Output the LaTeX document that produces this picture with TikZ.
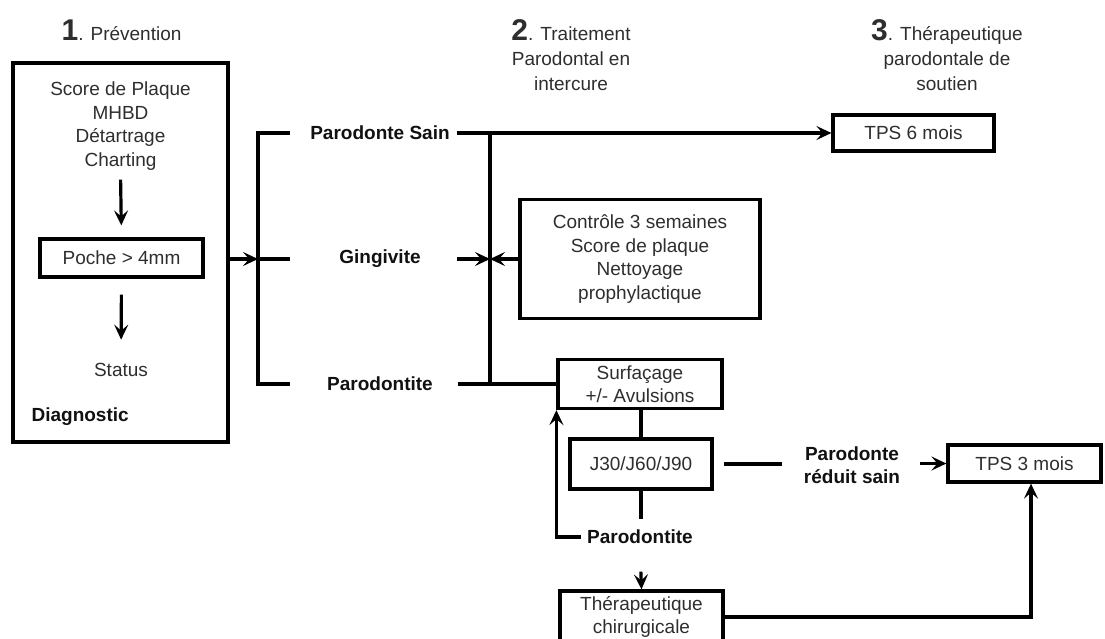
\documentclass[tikz,border=0pt]{standalone}
\usepackage{fontspec}
\setmainfont{Liberation Sans}
\usetikzlibrary{arrows.meta,calc}
\definecolor{txt}{HTML}{2e2e2e}
\definecolor{btxt}{HTML}{111111}
\newcommand\myfs{\fontsize{19}{23.5}\selectfont}
\newcommand\hfs{\fontsize{19}{25}\selectfont}
\newcommand\bignum{\fontsize{30}{30}\selectfont\bfseries}
\begin{document}
\begin{tikzpicture}[x=1pt,y=-1pt,
  line width=3.2pt,
  box/.style={draw=black, line width=3.2pt, inner sep=0pt, align=center, text=txt, font=\myfs},
  lbl/.style={inner sep=2pt, align=center, text=txt, font=\myfs},
  hdr/.style={inner sep=0pt, align=center, text=txt, font=\hfs},
  blbl/.style={inner sep=2pt, align=center, text=btxt, font=\myfs\bfseries},
  arr/.style={-{Stealth[length=15pt,width=14pt,inset=6pt]}},
]
\useasboundingbox (0,0) rectangle (1105,638);

% headers
\node[hdr, anchor=base] (h1) at (121.5,40) {{\bignum 1}. Prévention};
\node[hdr] (h2) at (571,55) {{\bignum 2}. Traitement\\Parodontal en\\intercure};
\node[hdr] (h3) at (947,55) {{\bignum 3}. Thérapeutique\\parodontale de\\soutien};

% column 1
\node[box, minimum width=215, minimum height=379] (prev) at (120.5,252.5) {};
\node[lbl] (plaque) at (120.5,126) {Score de Plaque\\MHBD\\Détartrage\\Charting};
\node[box, minimum width=163, minimum height=38] (poche) at (121.5,258) {Poche > 4mm};
\node[lbl] (status) at (121,370) {Status};
\node[blbl, anchor=west] (diag) at (28,417) {Diagnostic};
\draw[arr, shorten <=6, shorten >=12] (plaque.south) -- (poche.north);
\draw[arr, shorten <=16, shorten >=20] (poche.south) -- (status.north);

% bracket and branches
\node[blbl] (sain) at (380,133) {Parodonte Sain};
\node[blbl] (ging) at (380,259) {Gingivite};
\node[blbl] (parod) at (380,384) {Parodontite};
\coordinate (bl) at (258,0);
\coordinate (br) at (290,0);
\coordinate (vl) at (490,0);
\coordinate (ux) at (1031,0);
\draw (sain -| br) -- (sain -| bl) -- (parod -| bl) -- (parod -| br);
\draw (ging -| bl) -- (ging -| br);
\draw[arr] (prev.east |- ging) -- (ging -| bl);

% column 2
\node[box, minimum width=161, minimum height=36] (tps6) at (913.5,133) {TPS 6 mois};
\node[box, minimum width=240, minimum height=119] (ctrl) at (640,259) {Contrôle 3 semaines\\Score de plaque\\Nettoyage\\prophylactique};
\node[box, minimum width=164, minimum height=49] (surf) at (640,384) {Surfaçage\\+/- Avulsions};
\node[box, minimum width=142, minimum height=50] (j30) at (641,464) {J30/J60/J90};
\node[blbl] (parod2) at (640,537) {Parodontite};
\node[box, minimum width=163, minimum height=52] (chir) at (641.5,617) {Thérapeutique\\chirurgicale};
\node[blbl] (reduit) at (852,465) {Parodonte\\réduit sain};
\node[box, minimum width=153, minimum height=37] (tps3) at (1024.5,463.5) {TPS 3 mois};

\draw[arr, shorten <=4] (sain.east) -- (tps6.west);
\draw (sain -| vl) -- (parod -| vl);
\draw[shorten <=22] (parod.east) -- (parod -| surf.west);
\draw[arr, shorten <=33] (ging.east) -- (ging -| vl);
\draw[arr] (ctrl.west |- ging) -- (ging -| vl);
\draw (surf.south -| j30) -- (j30.north);
\draw[shorten >=7] (j30.south) -- (j30.south |- parod2.north);
\draw[arr, shorten <=3] (parod2.west) -| (surf.south west);
\draw[arr, shorten <=24] (parod2.south) -- (chir.north);
\draw[shorten <=10, shorten >=18] (j30.east) -- (j30.east -| reduit.west);
\draw[arr, shorten <=16] (reduit.east |- tps3) -- (tps3.west);
\draw[arr] (chir.east) -| (tps3.south -| ux);
\end{tikzpicture}
\end{document}
